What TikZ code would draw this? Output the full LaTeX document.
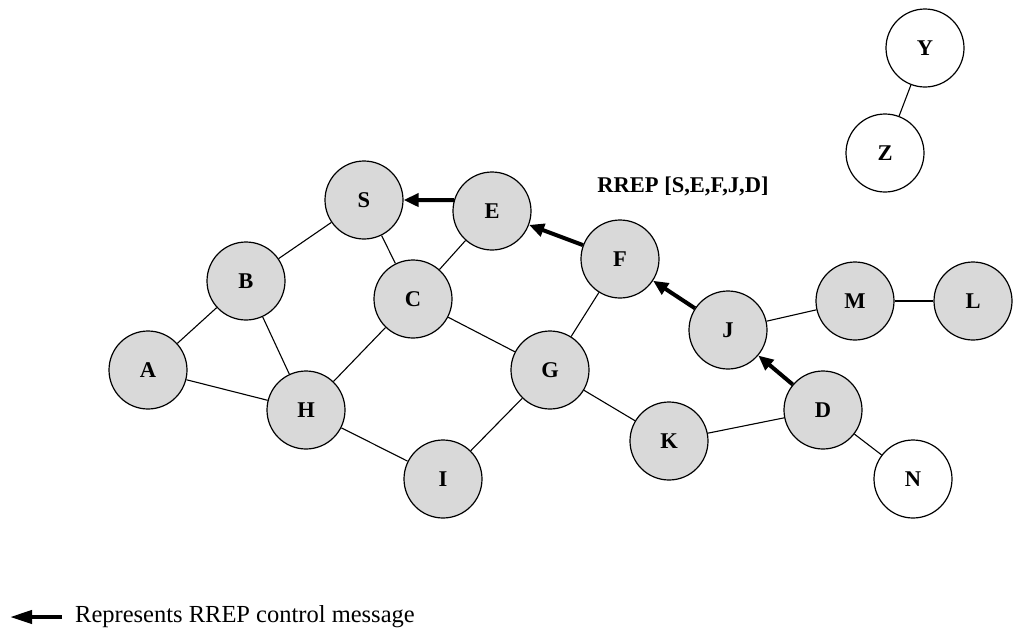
\documentclass[tikz,border=0pt]{standalone}
\usepackage{fontspec}
\setmainfont{Liberation Serif}
\usetikzlibrary{arrows.meta}
\tikzset{
  hop/.style={circle, draw=black, line width=1.2pt, fill=gray!30, minimum size=78pt, inner sep=0pt, font=\fontsize{22.5}{24}\selectfont\bfseries},
  idle/.style={hop, fill=white},
  link/.style={line width=1.1pt},
  rrep/.style={line width=4pt, -{Triangle[length=15pt,width=13pt]}}
}
\begin{document}
\begin{tikzpicture}[x=1pt,y=-1pt]
\useasboundingbox (0,0) rectangle (1017,630);
% nodes on the reply path and neighbours
\node[hop] (A) at (148,370) {A};
\node[hop] (B) at (246,281) {B};
\node[hop] (S) at (364,200) {S};
\node[hop] (E) at (492,211) {E};
\node[hop] (C) at (413,299) {C};
\node[hop] (H) at (306,410) {H};
\node[hop] (I) at (443,479) {I};
\node[hop] (G) at (550,370) {G};
\node[hop] (F) at (620,259) {F};
\node[hop] (K) at (669,441) {K};
\node[hop] (J) at (728,330) {J};
\node[hop] (D) at (823,410) {D};
\node[hop] (M) at (855,301) {M};
\node[hop] (L) at (973,301) {L};
% nodes not involved
\node[idle] (N) at (913,479) {N};
\node[idle] (Y) at (925,48) {Y};
\node[idle] (Z) at (885,153) {Z};
% links
\draw[link] (S) -- (B);
\draw[link] (S) -- (C);
\draw[link] (E) -- (C);
\draw[link] (B) -- (A);
\draw[link] (B) -- (H);
\draw[link] (A) -- (H);
\draw[link] (C) -- (H);
\draw[link] (C) -- (G);
\draw[link] (F) -- (G);
\draw[link] (G) -- (I);
\draw[link] (G) -- (K);
\draw[link] (H) -- (I);
\draw[link] (K) -- (D);
\draw[link] (D) -- (N);
\draw[link] (J) -- (M);
\draw[link] (M) -- (L);
\draw[link] (Y) -- (Z);
% route reply
\draw[rrep] (E.164) -- (S.east);
\draw[rrep] (F) -- (E);
\draw[rrep] (J) -- (F);
\draw[rrep] (D) -- (J);
\node[font=\fontsize{22.5}{24}\selectfont\bfseries] (lbl) at (683,186) {RREP [S,E,F,J,D]};
% legend
\coordinate (la) at (62,617);
\coordinate (lb) at (10,617);
\draw[line width=4pt, -{Triangle[length=22pt,width=13pt]}] (la) -- (lb);
\node[anchor=west, font=\fontsize{24.5}{26}\selectfont, inner sep=0pt] (legend) at (75,617) {Represents RREP control message};
\end{tikzpicture}
\end{document}
